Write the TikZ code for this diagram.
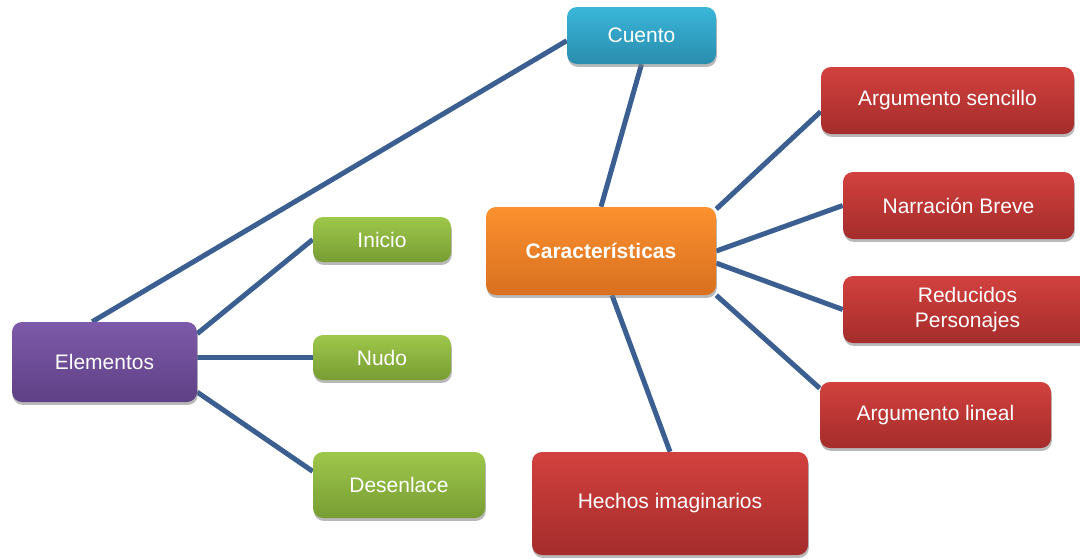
\documentclass[tikz,border=0pt]{standalone}
\usepackage{fontspec}
\setmainfont{Liberation Sans}
\usetikzlibrary{shadows,backgrounds}
\definecolor{linea}{HTML}{3C5F91}
\definecolor{azulA}{HTML}{3AB6D9}
\definecolor{azulB}{HTML}{2A8DAE}
\definecolor{naranjaA}{HTML}{FC912F}
\definecolor{naranjaB}{HTML}{D8701F}
\definecolor{moradoA}{HTML}{7E5AAA}
\definecolor{moradoB}{HTML}{5E4085}
\definecolor{rojoA}{HTML}{D2413E}
\definecolor{rojoB}{HTML}{A42C2B}
\definecolor{verdeA}{HTML}{9EC74B}
\definecolor{verdeB}{HTML}{779D33}
\tikzset{
    caja/.style={rounded corners=7.5pt, inner sep=0, text=white, align=center,
        font=\fontsize{15.75}{18.75}\selectfont,
        drop shadow={shadow xshift=0.6pt, shadow yshift=-2.2pt, fill=black!50, opacity=0.55}},
    cajaazul/.style={caja, top color=azulA, bottom color=azulB},
    cajanaranja/.style={caja, top color=naranjaA, bottom color=naranjaB},
    cajamorada/.style={caja, top color=moradoA, bottom color=moradoB},
    cajaroja/.style={caja, top color=rojoA, bottom color=rojoB},
    cajaverde/.style={caja, top color=verdeA, bottom color=verdeB},
    conector/.style={draw=linea, line width=3.75pt}
}
\begin{document}
\begin{tikzpicture}[x=0.75pt, y=-0.75pt]
        \useasboundingbox (0,0) rectangle (1080,558);
        \node[cajaazul, minimum width=111.75pt, minimum height=42.75pt] (cuento) at (641.5,35.5) {Cuento};
        \node[cajanaranja, minimum width=172.5pt, minimum height=66pt] (carac) at (601,251) {\bfseries Características};
        \node[cajamorada, minimum width=138.75pt, minimum height=60pt] (elem) at (104.5,362) {Elementos};
        \begin{scope}[every node/.style={cajaverde, minimum width=103.5pt, minimum height=33.75pt}]
            \node (inicio) at (382,239.5) {Inicio};
            \node (nudo) at (382,357.5) {Nudo};
            \node[minimum width=129pt, minimum height=49.5pt] (desenlace) at (399,485) {Desenlace};
        \end{scope}
        \begin{scope}[every node/.style={cajaroja, minimum height=50.25pt}]
            \node[minimum width=189.75pt] (sencillo) at (947.5,100.5) {Argumento sencillo};
            \node[minimum width=173.25pt] (breve) at (958.5,205.5) {Narración Breve};
            \node[minimum width=186.75pt] (reducidos) at (967.5,309.5) {Reducidos\\Personajes};
            \node[minimum width=173.25pt, minimum height=49.5pt] (lineal) at (935.5,415) {Argumento lineal};
            \node[minimum width=207pt, minimum height=77.25pt] (hechos) at (670,503.5) {Hechos imaginarios};
        \end{scope}
        \begin{scope}[on background layer]
            \draw[conector] (elem.107) -- (cuento.184);
            \draw[conector] (cuento.south) -- (carac.north);
            \draw[conector] (elem.17) -- (inicio.west);
            \draw[conector] (nudo.west) -- (nudo.west -| elem.east);
            \draw[conector] (elem.-18) -- (desenlace.171);
            \draw[conector] (carac.20) -- (sencillo.185);
            \draw[conector] (carac.east) -- (breve.west);
            \draw[conector] (carac.-6) -- (reducidos.west);
            \draw[conector] (carac.south east) -- (lineal.167);
            \draw[conector] (carac.-76) -- (hechos.north);
        \end{scope}
    \end{tikzpicture}
\end{document}
